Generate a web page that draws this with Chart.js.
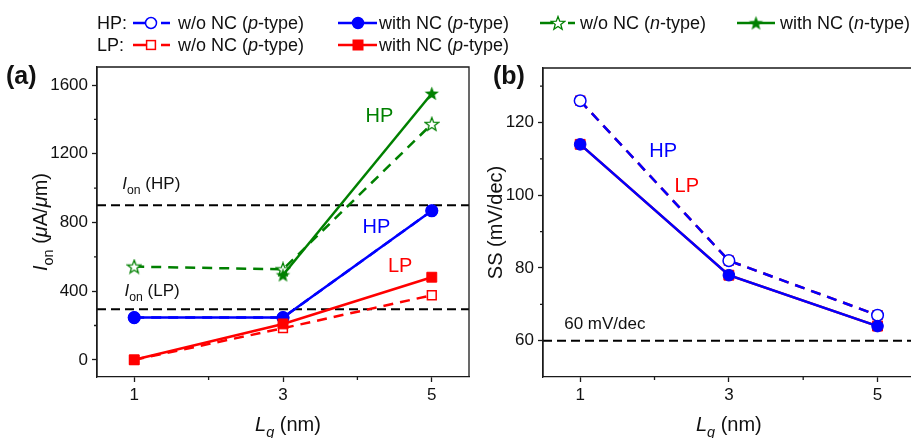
<!DOCTYPE html>
<html><head><meta charset="utf-8">
<script src="https://cdn.jsdelivr.net/npm/chart.js@4"></script>
<style>
html,body{margin:0;padding:0;background:#fff;}
#wrap{position:relative;width:911px;height:438px;overflow:hidden;background:#fff;}
#wrap canvas{position:absolute;top:0;}
</style></head><body>
<div id="wrap">
<canvas id="ca" width="475" height="438" style="left:0"></canvas>
<canvas id="cb" width="436" height="438" style="left:475px"></canvas>
<canvas id="leg" width="911" height="62" style="left:0"></canvas>
</div>
<script>
// ---------- data ----------
const lgValues = [1, 3, 5];
const xTicks = [1, 3, 5];
const xMinorTicks = [2, 4];
const ionTicks = [0, 400, 800, 1200, 1600];
const ionMinorTicks = [200, 600, 1000, 1400];
const ssTicks = [60, 80, 100, 120];
const ssMinorTicks = [70, 90, 110, 130];

const ionHP_pWo   = [246, 246, 868];
const ionHP_pWith = [246, 246, 868];
const ionHP_nWo   = [543, 527, 1373];
const ionHP_nWith = [null, 494, 1551];
const ionLP_pWo   = [0, 184, 376];
const ionLP_pWith = [0, 209, 481];
const ionTargetHP = 900;
const ionTargetLP = 295;

const ssHP_pWo   = [126, 82, 67];
const ssHP_pWith = [114, 78, 64];
const ssLP_pWo   = [126, 82, 67];
const ssLP_pWith = [114, 78, 64];
const ssLimit = 60;

// ---------- styles ----------
const FF = "Arial, 'Liberation Sans', sans-serif";
const BLUE = '#0000FF', RED = '#FF0000', GREEN = '#008000', AX = '#1a1a1a';
const DASH = [10, 7];

function starCanvas(color, filled, size) {
  const c = document.createElement('canvas'); c.width = c.height = size;
  const g = c.getContext('2d');
  const R = size / 2 - 1, r = R * 0.42, cx = size / 2, cy = size / 2 + R * 0.08;
  g.beginPath();
  for (let i = 0; i < 10; i++) {
    const a = -Math.PI / 2 + i * Math.PI / 5, rr = i % 2 ? r : R;
    g.lineTo(cx + rr * Math.cos(a), cy + rr * Math.sin(a));
  }
  g.closePath();
  if (filled) { g.fillStyle = color; g.fill(); }
  else { g.fillStyle = '#fff'; g.fill(); g.strokeStyle = color; g.lineWidth = 1.3; g.stroke(); }
  return c;
}
const starFilled = starCanvas(GREEN, true, 17);
const starOpen = starCanvas(GREEN, false, 16);

function pts(arr) { return lgValues.map((x, i) => ({ x: x, y: arr[i] })); }
function hline(v) { return [{ x: 0.5, y: v }, { x: 5.5, y: v }]; }

function series(data, color, dashed, style, open, order) {
  const isRect = style === 'rect';
  return {
    data: pts(data), order: order,
    borderColor: color, borderWidth: 2.5, borderDash: dashed ? DASH : [],
    pointStyle: style,
    pointRadius: isRect ? (open ? 6.2 : 7) : (style === 'circle' ? 5.8 : 8),
    pointBackgroundColor: open ? '#fff' : color,
    pointBorderColor: color, pointBorderWidth: open ? 1.5 : 1,
    spanGaps: false, tension: 0
  };
}
function refLine(v, order) {
  return { data: hline(v), order: order, borderColor: '#000', borderWidth: 2, borderDash: [9, 5], pointRadius: 0 };
}

// rich text: segments {t, i (italic), sub}
function drawRich(ctx, segs, x, y, size, color, align, bold) {
  ctx.save();
  ctx.fillStyle = color; ctx.textBaseline = 'alphabetic'; ctx.textAlign = 'left';
  const parts = segs.map(s => {
    const sz = s.sub ? size * 0.72 : size;
    const f = (s.i ? 'italic ' : '') + (bold ? 'bold ' : '') + sz + 'px ' + FF;
    ctx.font = f;
    return { t: s.t, f: f, w: ctx.measureText(s.t).width, dy: s.sub ? size * 0.28 : 0 };
  });
  const total = parts.reduce((a, p) => a + p.w, 0);
  let cx = align === 'center' ? x - total / 2 : x;
  for (const p of parts) { ctx.font = p.f; ctx.fillText(p.t, cx, y + size * 0.36 + p.dy); cx += p.w; }
  ctx.restore();
}
function drawRichRot(ctx, segs, x, y, size, color) {
  ctx.save(); ctx.translate(x, y); ctx.rotate(-Math.PI / 2);
  drawRich(ctx, segs, 0, 0, size, color, 'center');
  ctx.restore();
}

function frameAndMinor(rightSide) {
  return {
    id: 'frame',
    afterDraw(chart) {
      const ctx = chart.ctx, a = chart.chartArea;
      const xs = chart.scales.x, ys = chart.scales.y;
      ctx.save();
      ctx.strokeStyle = AX; ctx.lineWidth = 1.3;
      ctx.beginPath();
      ctx.moveTo(a.left, a.bottom); ctx.lineTo(a.left, a.top); ctx.lineTo(a.right + (rightSide ? 0 : 5), a.top);
      if (rightSide) ctx.lineTo(a.right, a.bottom);
      ctx.stroke();
      ctx.beginPath();
      for (const v of xs.options.minorTicks) { const p = xs.getPixelForValue(v); ctx.moveTo(p, a.bottom); ctx.lineTo(p, a.bottom + 3); }
      for (const v of ys.options.minorTicks) { const p = ys.getPixelForValue(v); ctx.moveTo(a.left, p); ctx.lineTo(a.left - 3, p); }
      ctx.stroke();
      ctx.restore();
    }
  };
}

function baseOptions(yMin, yMax, yTk, yMinor, xMax, yWidth, padRight, padTop) {
  const gridCommon = { drawOnChartArea: false, drawTicks: true, tickLength: 5, color: AX, tickWidth: 1.3 };
  return {
    responsive: false, animation: false,
    layout: { autoPadding: false, padding: { top: padTop, right: padRight, left: 0, bottom: 0 } },
    plugins: { legend: { display: false }, tooltip: { enabled: false } },
    scales: {
      x: {
        type: 'linear', min: 0.5, max: xMax, minorTicks: xMinorTicks,
        afterBuildTicks: s => { s.ticks = xTicks.map(v => ({ value: v })); },
        afterFit: s => { s.height = 61; s.paddingLeft = 0; s.paddingRight = 0; },
        grid: gridCommon, border: { display: true, color: AX, width: 1.3 },
        ticks: { font: { family: FF, size: 17 }, color: '#111', padding: 3, maxRotation: 0, callback: v => String(v) }
      },
      y: {
        type: 'linear', min: yMin, max: yMax, minorTicks: yMinor,
        afterBuildTicks: s => { s.ticks = yTk.map(v => ({ value: v })); },
        afterFit: s => { s.width = yWidth; s.paddingTop = 0; s.paddingBottom = 0; },
        grid: gridCommon, border: { display: true, color: AX, width: 1.3 },
        ticks: { font: { family: FF, size: 17 }, color: '#111', padding: 4, callback: v => String(v) }
      }
    }
  };
}

// ---------- panel (a) ----------
const annotA = {
  id: 'annotA',
  afterDraw(chart) {
    const ctx = chart.ctx, xs = chart.scales.x, ys = chart.scales.y, a = chart.chartArea;
    const P = (x, y) => [xs.getPixelForValue(x), ys.getPixelForValue(y)];
    let p;
    p = P(0.84, 1030); drawRich(ctx, [{ t: 'I', i: 1 }, { t: 'on', sub: 1 }, { t: ' (HP)' }], p[0], p[1], 17, '#111', 'left');
    p = P(0.87, 408);  drawRich(ctx, [{ t: 'I', i: 1 }, { t: 'on', sub: 1 }, { t: ' (LP)' }], p[0], p[1], 17, '#111', 'left');
    p = P(4.11, 1425); drawRich(ctx, [{ t: 'HP' }], p[0], p[1], 20, GREEN, 'left');
    p = P(4.07, 780);  drawRich(ctx, [{ t: 'HP' }], p[0], p[1], 20, BLUE, 'left');
    p = P(4.41, 553);  drawRich(ctx, [{ t: 'LP' }], p[0], p[1], 20, RED, 'left');
    drawRich(ctx, [{ t: '(a)' }], 6, 75, 25, '#111', 'left', true);
    drawRichRot(ctx, [{ t: 'I', i: 1 }, { t: 'on', sub: 1 }, { t: ' (' }, { t: 'μ', i: 1 }, { t: 'A/' }, { t: 'μ', i: 1 }, { t: 'm)' }], 40, (a.top + a.bottom) / 2, 20, '#111');
    drawRich(ctx, [{ t: 'L', i: 1 }, { t: 'g', i: 1, sub: 1 }, { t: ' (nm)' }], xs.getPixelForValue(3) + 5, 424, 20, '#111', 'center');
  }
};

new Chart(document.getElementById('ca'), {
  type: 'line',
  data: {
    datasets: [
      series(ionLP_pWith, RED, false, 'rect', false, 0),
      series(ionLP_pWo, RED, true, 'rect', true, 1),
      series(ionHP_pWith, BLUE, false, 'circle', false, 2),
      series(ionHP_pWo, BLUE, true, 'circle', true, 3),
      series(ionHP_nWith, GREEN, false, starFilled, false, 4),
      series(ionHP_nWo, GREEN, true, starOpen, true, 5),
      refLine(ionTargetHP, 6),
      refLine(ionTargetLP, 7)
    ]
  },
  options: baseOptions(-100, 1705, ionTicks, ionMinorTicks, 5.5, 97, 6, 67),
  plugins: [frameAndMinor(true), annotA]
});

// ---------- panel (b) ----------
const annotB = {
  id: 'annotB',
  afterDraw(chart) {
    const ctx = chart.ctx, xs = chart.scales.x, ys = chart.scales.y, a = chart.chartArea;
    const P = (x, y) => [xs.getPixelForValue(x), ys.getPixelForValue(y)];
    let p;
    p = P(1.93, 112.5); drawRich(ctx, [{ t: 'HP' }], p[0], p[1], 20, BLUE, 'left');
    p = P(2.27, 102.9); drawRich(ctx, [{ t: 'LP' }], p[0], p[1], 20, RED, 'left');
    p = P(0.785, 64.9); drawRich(ctx, [{ t: '60 mV/dec' }], p[0], p[1], 17, '#111', 'left');
    drawRich(ctx, [{ t: '(b)' }], 18, 75, 25, '#111', 'left', true);
    drawRichRot(ctx, [{ t: 'SS (mV/dec)' }], 20, (a.top + a.bottom) / 2, 20, '#111');
    drawRich(ctx, [{ t: 'L', i: 1 }, { t: 'g', i: 1, sub: 1 }, { t: ' (nm)' }], xs.getPixelForValue(3), 424, 20, '#111', 'center');
  }
};

new Chart(document.getElementById('cb'), {
  type: 'line',
  data: {
    datasets: [
      series(ssHP_pWith, BLUE, false, 'circle', false, 0),
      series(ssHP_pWo, BLUE, true, 'circle', true, 1),
      series(ssLP_pWith, RED, false, 'rect', false, 2),
      series(ssLP_pWo, RED, true, 'rect', true, 3),
      refLine(ssLimit, 4)
    ]
  },
  options: baseOptions(50, 135, ssTicks, ssMinorTicks, 5.45, 68, 0, 68),
  plugins: [frameAndMinor(false), annotB]
});

// ---------- legend ----------
(function () {
  const ctx = document.getElementById('leg').getContext('2d');
  function marker(kind, x, y) {
    ctx.save();
    if (kind === 'circle' || kind === 'circleOpen') {
      ctx.beginPath(); ctx.arc(x, y, 5.5, 0, Math.PI * 2);
      ctx.fillStyle = kind === 'circle' ? BLUE : '#fff'; ctx.fill();
      ctx.strokeStyle = BLUE; ctx.lineWidth = 1.5; ctx.stroke();
    } else if (kind === 'rect' || kind === 'rectOpen') {
      const h = kind === 'rect' ? 5 : 4.4;
      ctx.fillStyle = kind === 'rect' ? RED : '#fff'; ctx.fillRect(x - h, y - h, 2 * h, 2 * h);
      ctx.strokeStyle = RED; ctx.lineWidth = kind === 'rect' ? 1 : 1.5; ctx.strokeRect(x - h, y - h, 2 * h, 2 * h);
    } else {
      const c = kind === 'star' ? starFilled : starOpen;
      ctx.drawImage(c, x - c.width / 2, y - c.height / 2);
    }
    ctx.restore();
  }
  function sample(x1, xm, x2, y, color, dashed, kind) {
    ctx.save(); ctx.strokeStyle = color; ctx.lineWidth = 2.5;
    ctx.beginPath();
    if (dashed) { ctx.moveTo(x1, y); ctx.lineTo(xm - 5, y); ctx.moveTo(xm + 10, y); ctx.lineTo(x2, y); }
    else { ctx.moveTo(x1, y); ctx.lineTo(x2, y); }
    ctx.stroke(); ctx.restore();
    marker(kind, xm, y);
  }
  const lab = (type) => [{ t: 'w/o NC (' }, { t: type, i: 1 }, { t: '-type)' }];
  const labW = (type) => [{ t: 'with NC (' }, { t: type, i: 1 }, { t: '-type)' }];
  const y1 = 23, y2 = 45;
  drawRich(ctx, [{ t: 'HP:' }], 97, y1, 18, '#111', 'left');
  sample(133, 151, 170, y1, BLUE, true, 'circleOpen');
  drawRich(ctx, lab('p'), 178, y1, 18, '#111', 'left');
  sample(338, 358, 377, y1, BLUE, false, 'circle');
  drawRich(ctx, labW('p'), 379, y1, 18, '#111', 'left');
  sample(540, 558, 575, y1, GREEN, true, 'starOpen');
  drawRich(ctx, lab('n'), 580, y1, 18, '#111', 'left');
  sample(737, 756, 775, y1, GREEN, false, 'star');
  drawRich(ctx, labW('n'), 780, y1, 18, '#111', 'left');
  drawRich(ctx, [{ t: 'LP:' }], 97, y2, 18, '#111', 'left');
  sample(133, 151, 170, y2, RED, true, 'rectOpen');
  drawRich(ctx, lab('p'), 178, y2, 18, '#111', 'left');
  sample(338, 358, 377, y2, RED, false, 'rect');
  drawRich(ctx, labW('p'), 379, y2, 18, '#111', 'left');
})();
</script>
</body></html>
